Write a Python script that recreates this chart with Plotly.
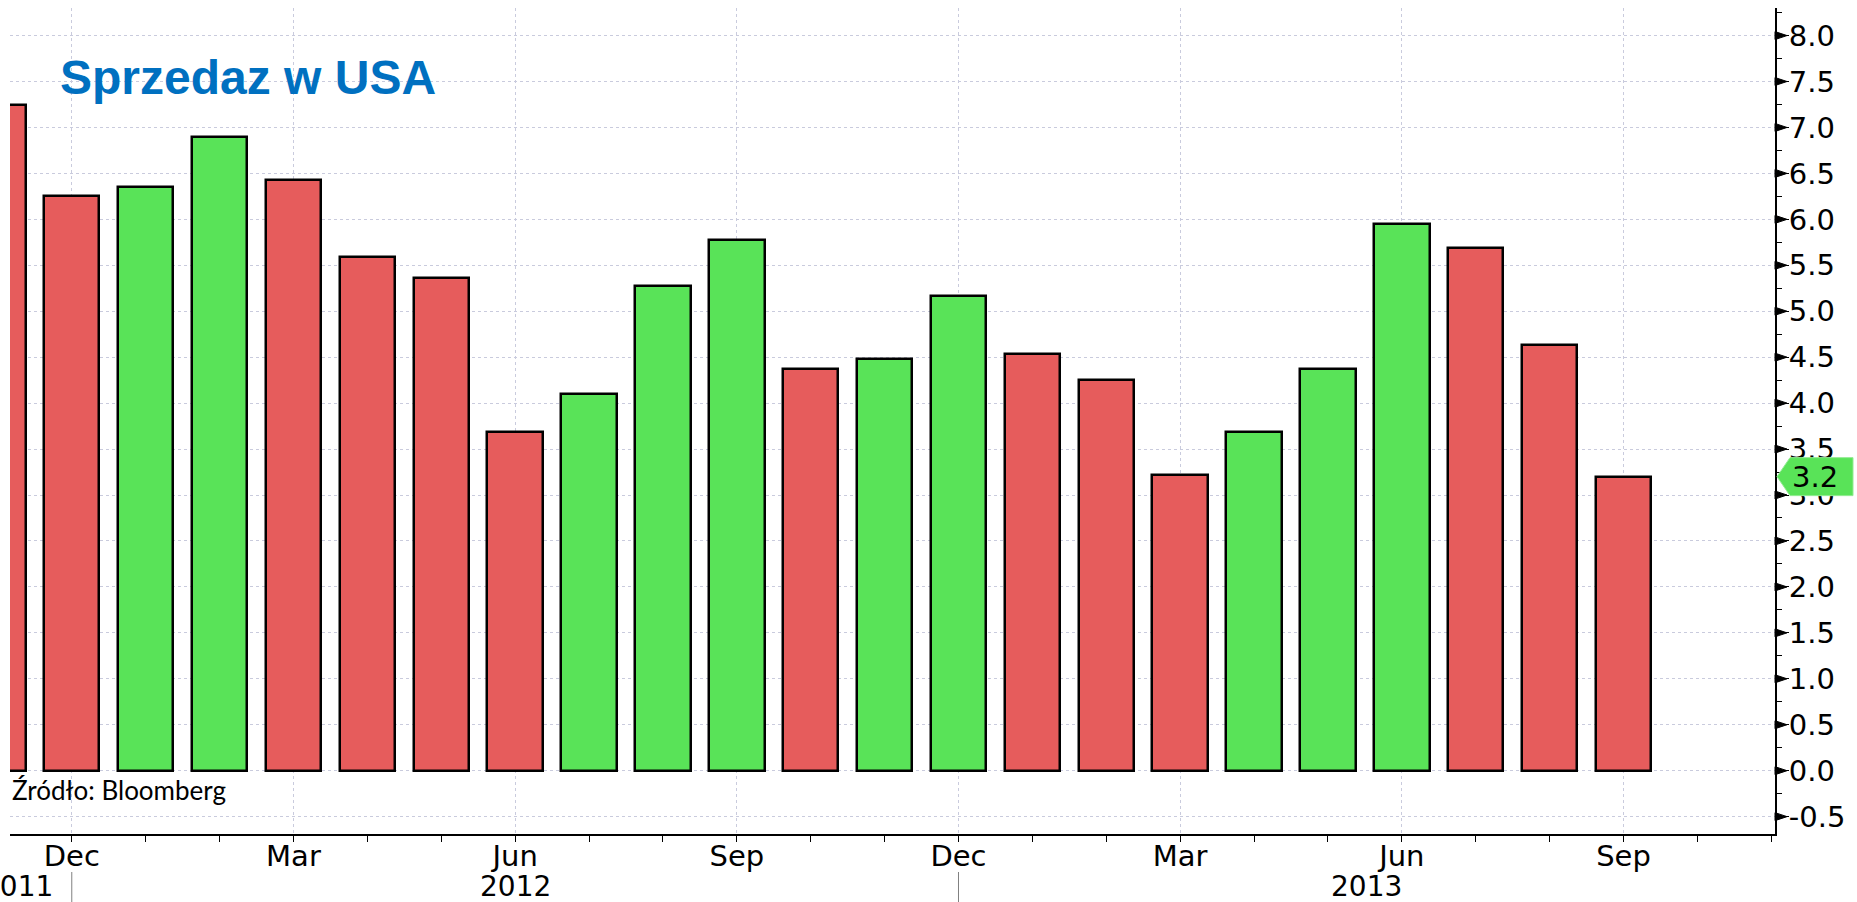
import plotly.graph_objects as go

# ---- data ----
months = ["2011-11", "2011-12", "2012-01", "2012-02", "2012-03", "2012-04", "2012-05",
          "2012-06", "2012-07", "2012-08", "2012-09", "2012-10", "2012-11", "2012-12",
          "2013-01", "2013-02", "2013-03", "2013-04", "2013-05", "2013-06", "2013-07",
          "2013-08", "2013-09"]
values = [7.24, 6.25, 6.35, 6.90, 6.43, 5.59, 5.36, 3.69, 4.10, 5.27, 5.78, 4.37,
          4.48, 5.17, 4.54, 4.25, 3.22, 3.69, 4.37, 5.95, 5.69, 4.63, 3.20]
month_names = ["Jan", "Feb", "Mar", "Apr", "May", "Jun", "Jul", "Aug", "Sep", "Oct", "Nov", "Dec"]
y_ticks = [-0.5, 0.0, 0.5, 1.0, 1.5, 2.0, 2.5, 3.0, 3.5, 4.0, 4.5, 5.0, 5.5, 6.0, 6.5, 7.0, 7.5, 8.0]
last_label = "3.2"

RED = "#E65C5C"
GREEN = "#59E358"

W, H = 1857, 902
ML, MR, MT, MB = 10, 82, 8, 68
PW = W - ML - MR
PH = H - MT - MB

x_idx = list(range(len(months)))
colors = [RED] + [GREEN if values[i] > values[i - 1] else RED for i in range(1, len(values))]

# month positions extended to axis end (Nov 2013)
n_ext = len(months) + 2
def ym(i):
    y0, m0 = int(months[0][:4]), int(months[0][5:])
    t = m0 - 1 + i
    return y0 + t // 12, t % 12 + 1

tickvals, ticktext = [], []
for i in range(n_ext):
    y, m = ym(i)
    if m in (12, 3, 6, 9):
        tickvals.append(i)
        ticktext.append(month_names[m - 1])

xr = [0.164, 24.05]
yr = [-0.689, 8.30]
px_per_unit = PH / (yr[1] - yr[0])

fig = go.Figure()
fig.add_trace(go.Bar(
    x=x_idx, y=values, width=0.75,
    marker=dict(color=colors, line=dict(color="black", width=2.5)),
    showlegend=False, hoverinfo="skip",
))

grid = dict(gridcolor="#C9CBDD", gridwidth=1, griddash="3px,3px")
fig.update_layout(
    width=W, height=H,
    margin=dict(l=ML, r=MR, t=MT, b=MB, pad=0),
    paper_bgcolor="white", plot_bgcolor="white",
    bargap=0,
    xaxis=dict(range=xr, tickmode="array", tickvals=tickvals, ticktext=ticktext,
               showgrid=True, **grid, zeroline=False,
               showline=True, linecolor="black", linewidth=2,
               ticks="outside", ticklen=6, tickcolor="black", tickwidth=1,
               minor=dict(tickmode="linear", tick0=0, dtick=1, ticks="outside",
                          ticklen=6, tickcolor="black", showgrid=False),
               tickfont=dict(family="DejaVu Sans", size=29, color="black"),
               ticklabelstandoff=-11),
    yaxis=dict(range=yr, side="right", tickmode="array", tickvals=y_ticks,
               ticktext=[f"{v:.1f}" for v in y_ticks],
               showgrid=True, **grid, zeroline=False,
               showline=True, linecolor="black", linewidth=2,
               ticks="outside", ticklen=12, tickcolor="black", tickwidth=1,
               minor=dict(tickmode="linear", tick0=0, dtick=0.25, ticks="outside",
                          ticklen=5, tickcolor="black", showgrid=False),
               tickfont=dict(family="DejaVu Sans", size=29, color="black"),
               ticklabelstandoff=-6),
)

shapes = []
# triangular major tick markers on the right axis
dxp = 12 / PW
dyu = 4 / px_per_unit
for v in y_ticks:
    shapes.append(dict(type="path", xref="paper", yref="y",
                       path=f"M 1,{v - dyu} L {1 + dxp},{v} L 1,{v + dyu} Z",
                       fillcolor="black", line=dict(color="black", width=1), layer="above"))

# last value tag
lv = values[-1]
hu = 19 / px_per_unit
p = lambda px: 1 + px / PW
shapes.append(dict(type="path", xref="paper", yref="y",
                   path=(f"M {p(2)},{lv} L {p(15)},{lv + hu} L {p(78)},{lv + hu} "
                         f"L {p(78)},{lv - hu} L {p(15)},{lv - hu} Z"),
                   fillcolor=GREEN, line=dict(color="#93EC93", width=1), layer="above"))

# year separators
for i in range(n_ext):
    y, m = ym(i)
    if m == 12:
        shapes.append(dict(type="line", xref="x", yref="paper", x0=i, x1=i,
                           y0=-(872 - 834) / PH, y1=-(902 - 834) / PH,
                           line=dict(color="#808080", width=1)))
fig.update_layout(shapes=shapes)

ann = []
ann.append(dict(text=last_label, xref="paper", yref="y", x=p(40), y=lv,
                xanchor="center", yanchor="middle", showarrow=False,
                font=dict(family="DejaVu Sans", size=29, color="black")))
# year labels
dec_idx = [i for i in range(n_ext) if ym(i)[1] == 12]
yl = -(886 - 834) / PH
yfont = dict(family="DejaVu Sans", size=28, color="black")
ann.append(dict(text=str(ym(dec_idx[0])[0]), xref="x", yref="paper", x=dec_idx[0], y=yl,
                xanchor="right", yanchor="middle", xshift=-17, showarrow=False, font=yfont))
ann.append(dict(text=str(ym(dec_idx[0] + 1)[0]), xref="x", yref="paper",
                x=(dec_idx[0] + dec_idx[1]) / 2, y=yl, xanchor="center", yanchor="middle",
                showarrow=False, font=yfont))
ann.append(dict(text=str(ym(dec_idx[1] + 1)[0]), xref="x", yref="paper",
                x=(dec_idx[1] + xr[1]) / 2, y=yl, xanchor="center", yanchor="middle",
                showarrow=False, font=yfont))
# title
ann.append(dict(text="<b>Sprzedaz w USA</b>", xref="paper", yref="paper",
                x=(58 - ML) / PW, y=1 - (77.5 - MT) / PH, xanchor="left", yanchor="middle",
                showarrow=False,
                font=dict(family="Liberation Sans", size=48, color="#0070C0")))
# source
ann.append(dict(text="Źródło: Bloomberg", xref="paper", yref="paper",
                x=(10 - ML) / PW, y=(834 - 790) / PH, xanchor="left", yanchor="middle",
                showarrow=False,
                font=dict(family="Lato", size=26, color="black")))
fig.update_layout(annotations=ann)

fig.write_html("out.html", config={"displayModeBar": False},
               post_script="document.body.style.margin='0';document.body.style.overflow='hidden';")
